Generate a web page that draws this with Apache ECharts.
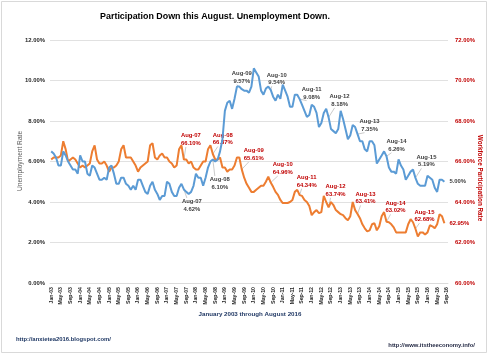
<!DOCTYPE html>
<html><head><meta charset="utf-8">
<script src="https://cdn.jsdelivr.net/npm/echarts@6/dist/echarts.min.js"></script>
<style>html,body{margin:0;padding:0;background:#fff}#c{width:488px;height:354px}</style>
</head><body><div id="c"></div>
<script>
const monthNames = ['Jan','Feb','Mar','Apr','May','Jun','Jul','Aug','Sep','Oct','Nov','Dec'];
const categories = [];
for (let y = 2003; y <= 2016; y++) {
  for (let m = 0; m < 12; m++) {
    if (y === 2016 && m > 8) break;
    categories.push(monthNames[m] + '-' + String(y).slice(2));
  }
}
// Unemployment rate (%), Jan 2003 - Aug 2016
const unemploymentRate = [
  6.5,6.4,6.2,5.8,5.8,6.5,6.3,6.0,5.8,5.6,5.6,5.4,
  6.3,6.0,6.0,5.4,5.3,5.8,5.7,5.4,5.1,5.1,5.2,5.1,
  5.7,5.8,5.4,4.9,4.9,5.2,5.2,4.9,4.8,4.6,4.8,4.6,
  5.1,5.1,4.8,4.5,4.4,4.8,5.0,4.6,4.4,4.1,4.3,4.3,
  5.0,4.9,4.5,4.3,4.3,4.7,4.9,4.62,4.5,4.4,4.5,4.8,
  5.4,5.2,5.2,4.8,5.2,5.7,6.0,6.10,6.0,6.1,6.5,7.1,
  8.5,8.9,9.0,8.6,9.1,9.7,9.7,9.57,9.5,9.5,9.4,9.7,
  10.6,10.4,10.2,9.5,9.3,9.6,9.7,9.54,9.2,9.0,9.3,9.1,
  9.8,9.5,9.2,8.7,8.7,9.3,9.3,9.08,8.8,8.5,8.2,8.3,
  8.8,8.7,8.4,7.7,7.9,8.4,8.6,8.18,7.6,7.5,7.4,7.6,
  8.5,8.1,7.6,7.1,7.3,7.8,7.7,7.35,7.0,7.0,6.6,6.5,
  7.0,7.0,6.8,5.9,6.1,6.3,6.5,6.26,5.7,5.5,5.5,5.4,
  6.1,5.8,5.6,5.1,5.3,5.5,5.6,5.19,4.9,4.8,4.8,4.8,
  5.3,5.2,5.1,4.7,4.5,5.1,5.1,5.00
];
// Workforce participation rate (%), Jan 2003 - Aug 2016
const participationRate = [
  66.1,66.2,66.2,66.2,66.3,67.0,66.6,66.0,66.1,66.2,66.1,65.9,
  65.7,65.8,65.7,65.8,65.9,66.5,66.8,66.1,65.9,65.9,66.0,65.8,
  65.5,65.7,65.7,65.8,66.0,66.6,66.8,66.2,66.2,66.2,66.0,65.8,
  65.5,65.7,65.8,65.9,66.0,66.8,66.9,66.2,66.1,66.3,66.4,66.2,
  66.2,66.0,65.9,65.7,65.8,66.6,66.8,66.10,66.1,65.9,66.0,65.7,
  65.6,65.6,65.8,66.0,66.0,66.6,66.8,66.37,66.1,66.1,66.2,65.7,
  65.7,65.5,65.6,65.6,65.8,66.2,66.2,65.61,65.2,64.9,64.7,64.5,
  64.5,64.6,64.7,64.8,64.8,65.0,65.25,64.96,64.75,64.5,64.35,64.1,
  63.95,63.95,63.95,64.0,64.1,64.5,64.6,64.34,64.3,64.1,64.0,63.8,
  63.35,63.5,63.6,63.45,63.5,64.3,64.0,63.74,64.0,63.85,63.6,63.5,
  63.4,63.35,63.2,63.1,63.3,64.0,63.6,63.41,63.2,62.9,62.7,62.55,
  62.6,62.9,62.95,62.6,62.8,63.3,63.5,63.02,63.0,62.9,62.75,62.5,
  62.5,62.5,62.5,62.5,62.9,63.15,63.0,62.68,62.3,62.5,62.5,62.4,
  62.5,62.85,62.8,62.7,62.9,63.4,63.3,62.95
];
const leftTicks = {min: 0, max: 12, step: 2};
const rightTicks = {min: 60, max: 72, step: 2};
const annotatedMonths = ['Aug-07','Aug-08','Aug-09','Aug-10','Aug-11','Aug-12','Aug-13','Aug-14','Aug-15'];

// label layout offsets (style only)
const unempOffsets = [[8,16],[7,24],[0,-12],[6,-11],[12,-6],[11,-17],[12,-9],[10,-11],[11,-17]];
const partOffsets = [[7,-20],[10,-15],[12,-15],[12,-14],[7,-14],[7,-17],[8,-16],[9,-15],[9,-13]];

const FONT = 'Liberation Sans';
const annIdx = annotatedMonths.map(m => categories.indexOf(m));

function buildData(values, color) {
  return values.map((v, i) => {
    const k = annIdx.indexOf(i);
    if (k < 0) return v;
    return {
      value: v,
      label: {show: true, formatter: categories[i] + '\n' + v.toFixed(2) + '%', color: color}
    };
  });
}
function layoutFn(offsets) {
  return function (p) {
    const k = annIdx.indexOf(p.dataIndex);
    if (k < 0) return {};
    return {dx: offsets[k][0], dy: offsets[k][1]};
  };
}
const labelBase = {show: false, position: 'inside', fontFamily: FONT, fontSize: 5.9, fontWeight: 'bold', lineHeight: 7.6, align: 'center', verticalAlign: 'middle'};

const staticGraphics = [
  {id: 'border', type: 'rect', shape: {x: 1.5, y: 1.5, width: 485, height: 351}, style: {fill: 'none', stroke: '#d9d9d9', lineWidth: 1}, silent: true},
  {id: 'title', type: 'text', x: 215, y: 17, style: {text: 'Participation Down this August. Unemployment Down.', font: 'bold 8.9px "Liberation Sans"', fill: '#000000', textAlign: 'center', textVerticalAlign: 'middle'}},
  {id: 'yname0', type: 'text', x: 20, y: 161, rotation: Math.PI / 2, style: {text: 'Unemployment Rate', font: '6.6px "Liberation Sans"', fill: '#595959', textAlign: 'center', textVerticalAlign: 'middle'}},
  {id: 'yname1', type: 'text', x: 480, y: 178, rotation: -Math.PI / 2, style: {text: 'Workforce Participation Rate', font: 'bold 6.3px "Liberation Sans"', fill: '#C00000', textAlign: 'center', textVerticalAlign: 'middle'}},
  {id: 'xname', type: 'text', x: 250, y: 314, style: {text: 'January 2003 through August 2016', font: 'bold 6.2px "Liberation Sans"', fill: '#203864', textAlign: 'center', textVerticalAlign: 'middle'}},
  {id: 'src1', type: 'text', x: 16, y: 339, style: {text: 'http://anxietea2016.blogspot.com/', font: 'bold 5.9px "Liberation Sans"', fill: '#1F3864', textAlign: 'left', textVerticalAlign: 'middle'}},
  {id: 'src2', type: 'text', x: 475, y: 345, style: {text: 'http://www.itstheeconomy.info/', font: 'bold 5.9px "Liberation Sans"', fill: '#1F2540', textAlign: 'right', textVerticalAlign: 'middle'}}
];

const chart = echarts.init(document.getElementById('c'), null, {renderer: 'canvas'});
chart.setOption({
  animation: false,
  backgroundColor: '#ffffff',
  grid: {left: 50, right: 40, top: 40, bottom: 71, containLabel: false},
  xAxis: {
    type: 'category', data: categories, boundaryGap: true,
    axisLine: {show: true, lineStyle: {color: '#d9d9d9', width: 0.8}},
    axisTick: {show: false},
    axisLabel: {interval: 3, rotate: 90, fontFamily: FONT, fontSize: 5.2, fontWeight: 'bold', color: '#262626', margin: 4}
  },
  yAxis: [{
    type: 'value', min: leftTicks.min, max: leftTicks.max, interval: leftTicks.step,
    axisLine: {show: false}, axisTick: {show: false},
    axisLabel: {formatter: v => v.toFixed(2) + '%', fontFamily: FONT, fontSize: 5.9, fontWeight: 'bold', color: '#262626', margin: 5},
    splitLine: {lineStyle: {color: '#d9d9d9', width: 0.8}}
  }, {
    type: 'value', min: rightTicks.min, max: rightTicks.max, interval: rightTicks.step,
    axisLine: {show: false}, axisTick: {show: false},
    axisLabel: {formatter: v => v.toFixed(2) + '%', fontFamily: FONT, fontSize: 5.9, fontWeight: 'bold', color: '#C00000', margin: 7},
    splitLine: {show: false}
  }],
  series: [{
    name: 'Unemployment Rate', type: 'line', yAxisIndex: 0,
    data: buildData(unemploymentRate, '#404040'),
    showSymbol: true, showAllSymbol: true, symbol: 'circle', symbolSize: 0,
    lineStyle: {color: '#5B9BD5', width: 2}, itemStyle: {color: '#5B9BD5'},
    label: labelBase,
    labelLayout: layoutFn(unempOffsets),
    endLabel: {show: true, formatter: p => p.value.toFixed(2) + '%', fontFamily: FONT, fontSize: 5.9, fontWeight: 'bold', color: '#404040', distance: 5},
    silent: true, z: 3
  }, {
    name: 'Workforce Participation Rate', type: 'line', yAxisIndex: 1,
    data: buildData(participationRate, '#C00000'),
    showSymbol: true, showAllSymbol: true, symbol: 'circle', symbolSize: 0,
    lineStyle: {color: '#ED7D31', width: 2}, itemStyle: {color: '#ED7D31'},
    label: labelBase,
    labelLayout: layoutFn(partOffsets),
    endLabel: {show: true, formatter: p => p.value.toFixed(2) + '%', fontFamily: FONT, fontSize: 5.9, fontWeight: 'bold', color: '#C00000', distance: 5},
    silent: true, z: 2
  }],
  graphic: staticGraphics
});

// leader lines: from each annotated data point (via the chart's own scales) to its label
const leaders = [];
function addLeaders(values, offsets, yAxisIndex, prefix) {
  annIdx.forEach((i, k) => {
    const p = chart.convertToPixel({xAxisIndex: 0, yAxisIndex: yAxisIndex}, [categories[i], values[i]]);
    const dx = offsets[k][0], dy = offsets[k][1];
    const ex = p[0] + dx - 5;
    const ey = p[1] + dy + (dy < 0 ? 7.5 : -7.5);
    if (Math.hypot(ex - p[0], ey - p[1]) < 3) return;
    leaders.push({id: prefix + k, type: 'line', z: 1, silent: true,
      shape: {x1: p[0], y1: p[1], x2: ex, y2: ey},
      style: {stroke: '#a6a6a6', lineWidth: 0.6}});
  });
}
addLeaders(unemploymentRate, unempOffsets, 0, 'lu');
addLeaders(participationRate, partOffsets, 1, 'lp');
chart.setOption({graphic: staticGraphics.concat(leaders)});
</script>
</body></html>
